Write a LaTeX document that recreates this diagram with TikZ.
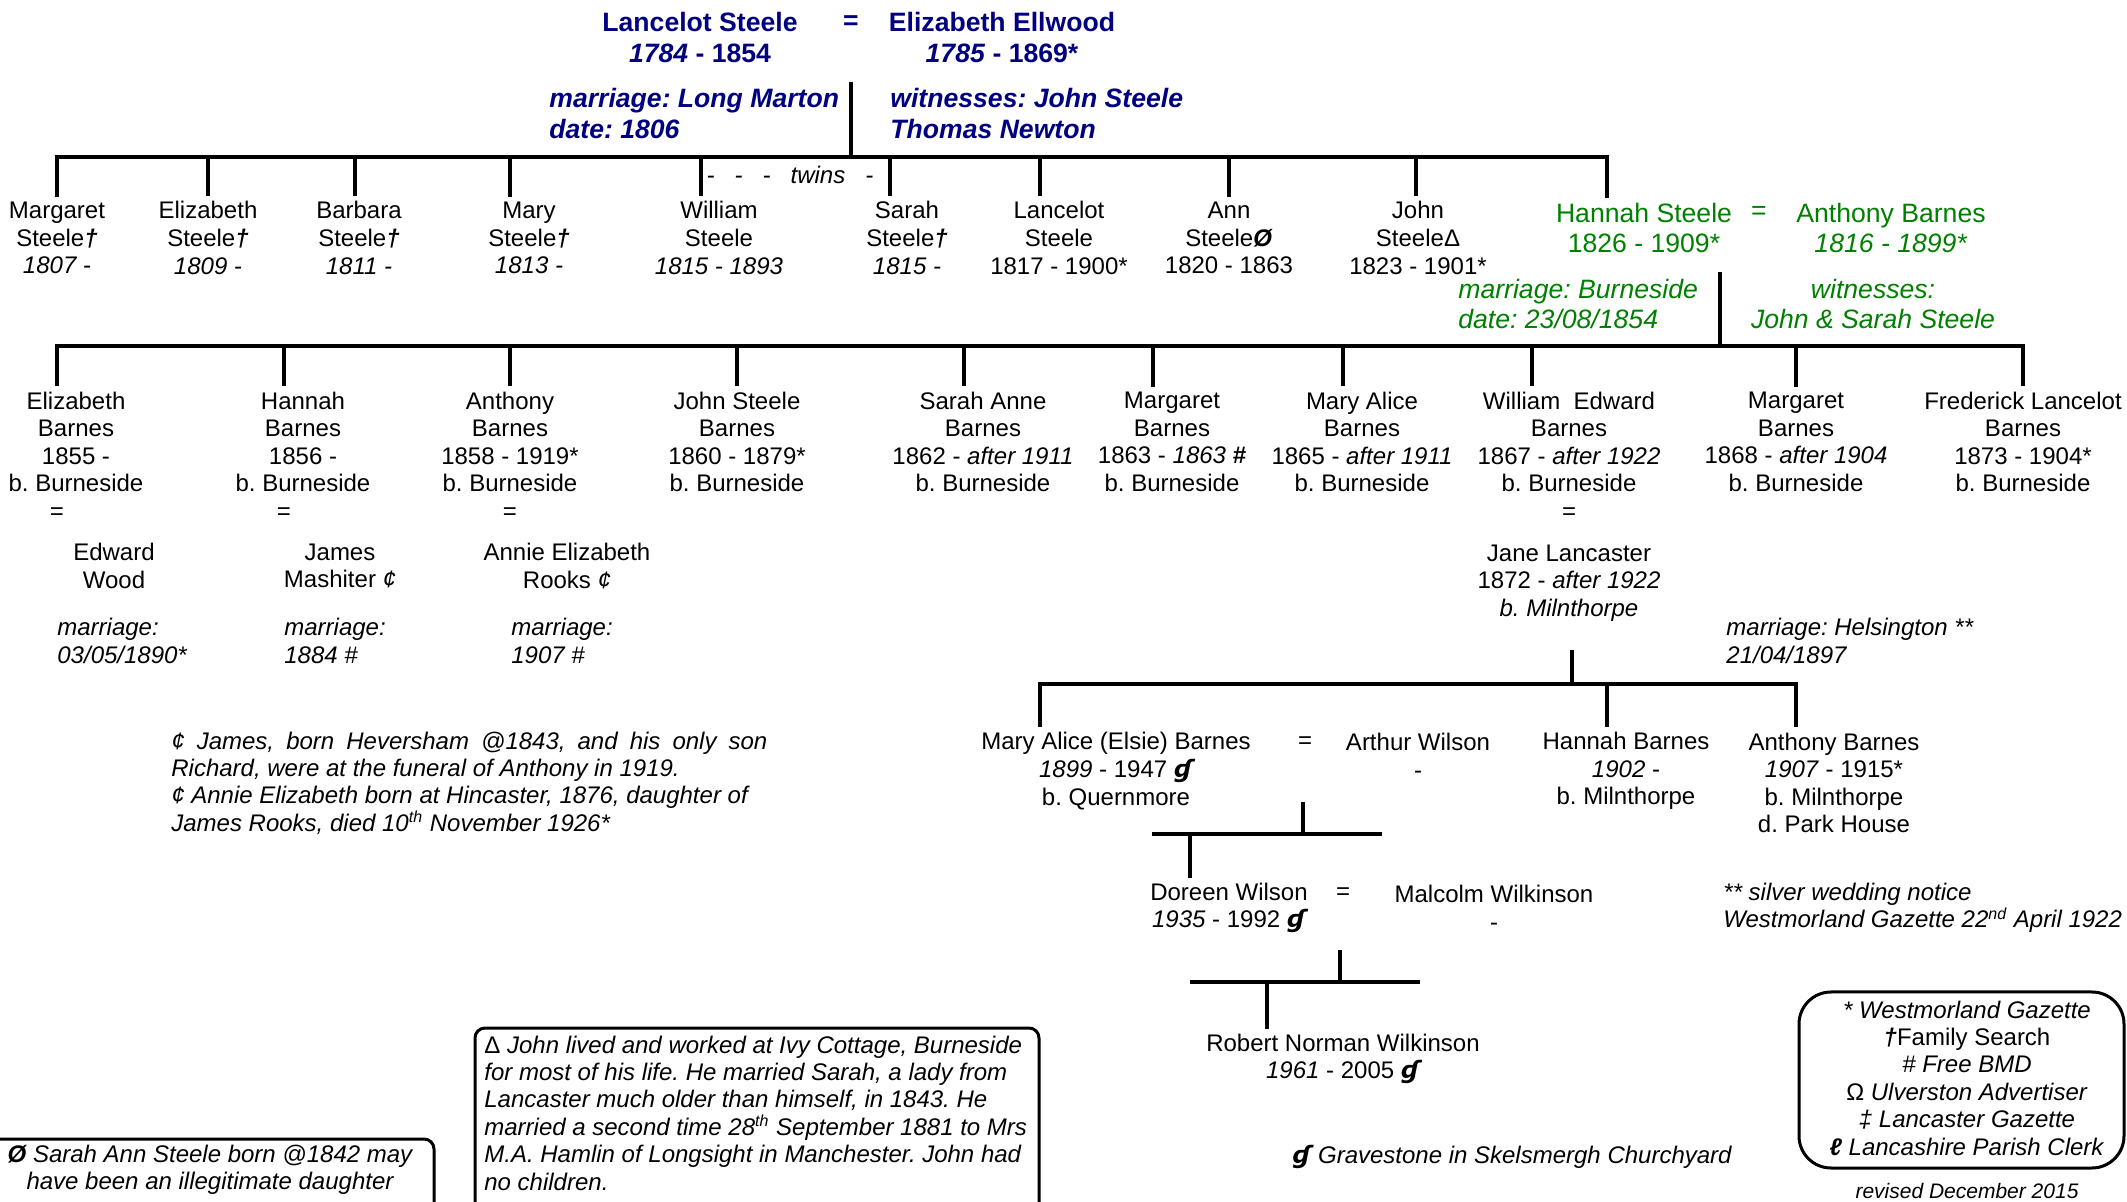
\documentclass[tikz,border=0pt]{standalone}
\usepackage{fontspec}
\setmainfont{Liberation Sans}
\newfontfamily\symfont{DejaVu Sans}
\usepackage{tikz}
\usetikzlibrary{calc}
\definecolor{navy}{RGB}{0,0,128}
\definecolor{leaf}{RGB}{0,128,0}
\newcommand{\dg}{\textbf{\textit{†}}}
\newcommand{\gstone}{{\symfont\bfseries\itshape ɠ}}
\frenchspacing
\tikzstyle{person} = [align=center, inner sep=0pt,
font=\fontsize{12}{13.8}\selectfont]
\tikzstyle{remark} = [align=left, inner sep=0pt,
font=\fontsize{12}{13.7}\selectfont\itshape]
\tikzstyle{topcouple} = [align=center, inner sep=0pt, text=navy,
font=\fontsize{13.3}{15.5}\selectfont\bfseries]
\tikzstyle{topnote} = [topcouple, align=left, anchor=west,
font=\fontsize{13.3}{15.5}\selectfont\bfseries\itshape]
\tikzstyle{greencouple} = [align=center, inner sep=0pt, text=leaf,
font=\fontsize{13.3}{15}\selectfont]
\tikzstyle{greennote} = [greencouple, font=\fontsize{13.3}{15}\selectfont\itshape]
\tikzstyle{bar} = [line width=2.2pt, line cap=rect]
\tikzstyle{link} = [line width=1.9pt]
\tikzstyle{drop} = [line width=1.9pt, shorten >=2.5pt]
\tikzstyle{notebox} = [line width=1.5pt, rounded corners=5pt]

\begin{document}
\begin{tikzpicture}[x=0.5pt, y=-0.5pt]
\useasboundingbox (0,0) rectangle (2127,1202);
\clip (0,0) rectangle (2127,1202);

% Lancelot Steele = Elizabeth Ellwood
\node (lancelot) [topcouple] at (700,38) {Lancelot Steele\\\textit{1784} - 1854};
\node (eqtop) [topcouple] at (851,23) {=};
\node (ellwood) [topcouple] at (1002,38) {Elizabeth Ellwood\\\textit{1785} - 1869*};
\node (marrtop) [topnote] at (549,114) {marriage: Long Marton\\date: 1806};
\node (wittop) [topnote] at (890,114) {witnesses: John Steele\\Thomas Newton};
\coordinate (wedtop) at (851,82);
\coordinate (bar1l) at (57,157);
\coordinate (bar1r) at (1607,157);
\draw [bar] (bar1l) -- (bar1r);
\draw [link] (wedtop) -- (wedtop |- bar1l);

\node (margaret) [person] at (57,238) {Margaret\\Steele\dg\\\textit{1807 -}};
\node (elizabeth) [person] at (208,238) {Elizabeth\\Steele\dg\\\textit{1809 -}};
\node (barbara) [person] at (359,238) {Barbara\\Steele\dg\\\textit{1811 -}};
\node (mary) [person] at (529,238) {Mary\\Steele\dg\\\textit{1813 -}};
\node (william) [person] at (719,238) {William\\Steele\\\textit{1815 - 1893}};
\node (sarah) [person] at (907,238) {Sarah\\Steele\dg\\\textit{1815 -}};
\node (lancelotjr) [person] at (1059,238) {Lancelot\\Steele\\1817 - 1900*};
\node (ann) [person] at (1229,238) {Ann\\Steele\textbf{\textit{Ø}}\\1820 - 1863};
\node (john) [person] at (1418,238) {John\\SteeleΔ\\1823 - 1901*};
\node (twins) [person] at (790,175) {\itshape -\hspace{10pt}-\hspace{10pt}-\hspace{10pt}twins\hspace{10pt}-};

\coordinate (c-elizabeth) at (208,157);
\coordinate (c-barbara) at (355,157);
\coordinate (c-mary) at (510,157);
\coordinate (c-william) at (701,157);
\coordinate (c-sarah) at (890,157);
\coordinate (c-lancelotjr) at (1040,157);
\coordinate (c-ann) at (1229,157);
\coordinate (c-john) at (1416,157);
\draw [drop] (bar1l) -- (bar1l |- margaret.north);
\draw [drop] (c-elizabeth) -- (c-elizabeth |- elizabeth.north);
\draw [drop] (c-barbara) -- (c-barbara |- barbara.north);
\draw [drop] (c-mary) -- (c-mary |- mary.north);
\draw [drop] (c-william) -- (c-william |- william.north);
\draw [drop] (c-sarah) -- (c-sarah |- sarah.north);
\draw [drop] (c-lancelotjr) -- (c-lancelotjr |- lancelotjr.north);
\draw [drop] (c-ann) -- (c-ann |- ann.north);
\draw [drop] (c-john) -- (c-john |- john.north);

% Hannah Steele = Anthony Barnes
\node (hannah) [greencouple] at (1644,228) {Hannah Steele\\1826 - 1909*};
\node (eqgreen) [greencouple] at (1759,213) {=};
\node (anthony) [greencouple] at (1891,228) {Anthony Barnes\\\textit{1816 - 1899*}};
\node (marrgreen) [greennote, align=left, anchor=west] at (1458,304) {marriage: Burneside\\date: 23/08/1854};
\node (witgreen) [greennote] at (1873,304) {witnesses:\\John \& Sarah Steele};
\draw [drop] (bar1r) -- (bar1r |- hannah.north);
\coordinate (wedgreen) at (1720,272);
\coordinate (bar2l) at (57,346);
\coordinate (bar2r) at (2023,346);
\draw [bar] (bar2l) -- (bar2r);
\draw [link] (wedgreen) -- (wedgreen |- bar2l);

\node (gelizabeth) [person] at (76,442) {Elizabeth\\Barnes\\1855 -\\b. Burneside};
\node (ghannah) [person] at (303,442) {Hannah\\Barnes\\1856 -\\b. Burneside};
\node (ganthony) [person] at (510,442) {Anthony\\Barnes\\1858 - 1919*\\b. Burneside};
\node (gjohn) [person] at (737,442) {John Steele\\Barnes\\1860 - 1879*\\b. Burneside};
\node (gsarah) [person] at (983,442) {Sarah Anne\\Barnes\\1862 - \textit{after 1911}\\b. Burneside};
\node (gmargaret) [person] at (1172,442) {Margaret\\Barnes\\1863 - \textit{1863 \textbf{\#}}\\b. Burneside};
\node (gmary) [person] at (1362,442) {Mary Alice\\Barnes\\1865 - \textit{after 1911}\\b. Burneside};
\node (gwilliam) [person] at (1569,442) {William\ \ Edward\\Barnes\\1867 - \textit{after 1922}\\b. Burneside};
\node (gmargaret2) [person] at (1796,442) {Margaret\\Barnes\\1868 - \textit{after 1904}\\b. Burneside};
\node (gfrederick) [person] at (2023,442) {Frederick Lancelot\\Barnes\\1873 - 1904*\\b. Burneside};

\coordinate (g-hannah) at (284,346);
\coordinate (g-anthony) at (510,346);
\coordinate (g-john) at (737,346);
\coordinate (g-sarah) at (964,346);
\coordinate (g-margaret) at (1153,346);
\coordinate (g-mary) at (1343,346);
\coordinate (g-william) at (1532,346);
\coordinate (g-margaret2) at (1796,346);
\draw [drop] (bar2l) -- (bar2l |- gelizabeth.north);
\draw [drop] (g-hannah) -- (g-hannah |- ghannah.north);
\draw [drop] (g-anthony) -- (g-anthony |- ganthony.north);
\draw [drop] (g-john) -- (g-john |- gjohn.north);
\draw [drop] (g-sarah) -- (g-sarah |- gsarah.north);
\draw [drop] (g-margaret) -- (g-margaret |- gmargaret.north);
\draw [drop] (g-mary) -- (g-mary |- gmary.north);
\draw [drop] (g-william) -- (g-william |- gwilliam.north);
\draw [drop] (g-margaret2) -- (g-margaret2 |- gmargaret2.north);
\draw [drop] (bar2r) -- (bar2r |- gfrederick.north);

% spouses of the Barnes children
\node (eqedward) [person] at (57,514) {=};
\node (eqjames) [person] at (284,514) {=};
\node (eqannie) [person] at (510,514) {=};
\node (eqjane) [person] at (1569,514) {=};
\node (edward) [person] at (114,566) {Edward\\Wood};
\node (james) [person] at (340,566) {James\\Mashiter \textit{¢}};
\node (annie) [person] at (567,566) {Annie Elizabeth\\Rooks \textit{¢}};
\node (jane) [person] at (1569,583) {Jane Lancaster\\1872 - \textit{after 1922}\\\textit{b. Milnthorpe}};
\node (marredward) [remark, anchor=west] at (57,641) {marriage:\\03/05/1890*};
\node (marrjames) [remark, anchor=west] at (284,641) {marriage:\\1884 \#};
\node (marrannie) [remark, anchor=west] at (511,641) {marriage:\\1907 \#};
\node (marrjane) [remark, anchor=west] at (1726,641) {marriage: Helsington **\\21/04/1897};
\node (centnote) [remark, anchor=west] at (171,783) {\makebox[298pt][s]{¢ James, born Heversham @1843, and his only son}\\Richard, were at the funeral of Anthony in 1919.\\¢ Annie Elizabeth born at Hincaster, 1876, daughter of\\James Rooks, died 10\textsuperscript{th} November 1926*};

% children of William Edward and Jane
\coordinate (wedjane) at (1572,650);
\coordinate (bar3l) at (1040,684);
\coordinate (bar3r) at (1796,684);
\coordinate (h-hannah) at (1607,684);
\draw [bar] (bar3l) -- (bar3r);
\draw [link] (wedjane) -- (wedjane |- bar3l);
\node (elsie) [person] at (1116,771) {Mary Alice (Elsie) Barnes\\\textit{1899} - 1947 \gstone\\b. Quernmore};
\node (eqelsie) [person] at (1305,743) {=};
\node (arthur) [person] at (1418,756) {Arthur Wilson\\-};
\node (hannahb) [person] at (1626,771) {Hannah Barnes\\\textit{1902} -\\b. Milnthorpe};
\node (anthonyb) [person] at (1834,783) {Anthony Barnes\\\textit{1907} - 1915*\\b. Milnthorpe\\d. Park House};
\draw [drop] (bar3l) -- (bar3l |- elsie.north);
\draw [drop] (h-hannah) -- (h-hannah |- hannahb.north);
\draw [drop] (bar3r) -- (bar3r |- anthonyb.north);

\coordinate (wedelsie) at (1303,802);
\coordinate (bar4l) at (1154,834);
\coordinate (bar4r) at (1380,834);
\coordinate (k-doreen) at (1190,834);
\draw [bar] (bar4l) -- (bar4r);
\draw [link] (wedelsie) -- (wedelsie |- bar4l);
\node (doreen) [person] at (1229,908) {Doreen Wilson\\\textit{1935} - 1992 \gstone};
\node (eqdoreen) [person] at (1343,894) {=};
\node (malcolm) [person] at (1494,908) {Malcolm Wilkinson\\-};
\draw [drop] (k-doreen) -- (k-doreen |- doreen.north);
\node (silver) [remark, anchor=west] at (1723,908) {** silver wedding notice\\Westmorland Gazette 22\textsuperscript{nd} April 1922};

\coordinate (weddoreen) at (1340,950);
\coordinate (bar5l) at (1192,982);
\coordinate (bar5r) at (1418,982);
\coordinate (r-robert) at (1267,982);
\draw [bar] (bar5l) -- (bar5r);
\draw [link] (weddoreen) -- (weddoreen |- bar5l);
\node (robert) [person] at (1343,1059) {Robert Norman Wilkinson\\\textit{1961} - 2005 \gstone};
\draw [drop] (r-robert) -- (r-robert |- robert.north);

\node (gravenote) [remark] at (1512,1157) {\gstone\ Gravestone in Skelsmergh Churchyard};

% boxed notes
\draw [notebox] (-20,1139) rectangle (434,1250);
\node (annnote) [remark, align=center] at (210,1170) {\textbf{Ø} Sarah Ann Steele born @1842 may\\have been an illegitimate daughter};
\draw [notebox] (475,1028) rectangle (1039,1250);
\node (johnnote) [remark, anchor=west] at (484,1113) {\upshape Δ \itshape John lived and worked at Ivy Cottage, Burneside\\for most of his life. He married Sarah, a lady from\\Lancaster much older than himself, in 1843. He\\married a second time 28\textsuperscript{th} September 1881 to Mrs\\M.A. Hamlin of Longsight in Manchester. John had\\no children.};
\draw [notebox, rounded corners=16pt] (1799,992) rectangle (2124,1168);
\node (legend) [person, font=\fontsize{12}{13.7}\selectfont] at (1967,1078) {\textit{* Westmorland Gazette}\\\dg Family Search\\\textit{\# Free BMD}\\Ω \textit{Ulverston Advertiser}\\\textit{‡ Lancaster Gazette}\\\textbf{\textit{ℓ}} \textit{Lancashire Parish Clerk}};
\node (revised) [person, font=\fontsize{10.5}{12}\selectfont\itshape] at (1967,1191) {revised December 2015};
\end{tikzpicture}
\end{document}
